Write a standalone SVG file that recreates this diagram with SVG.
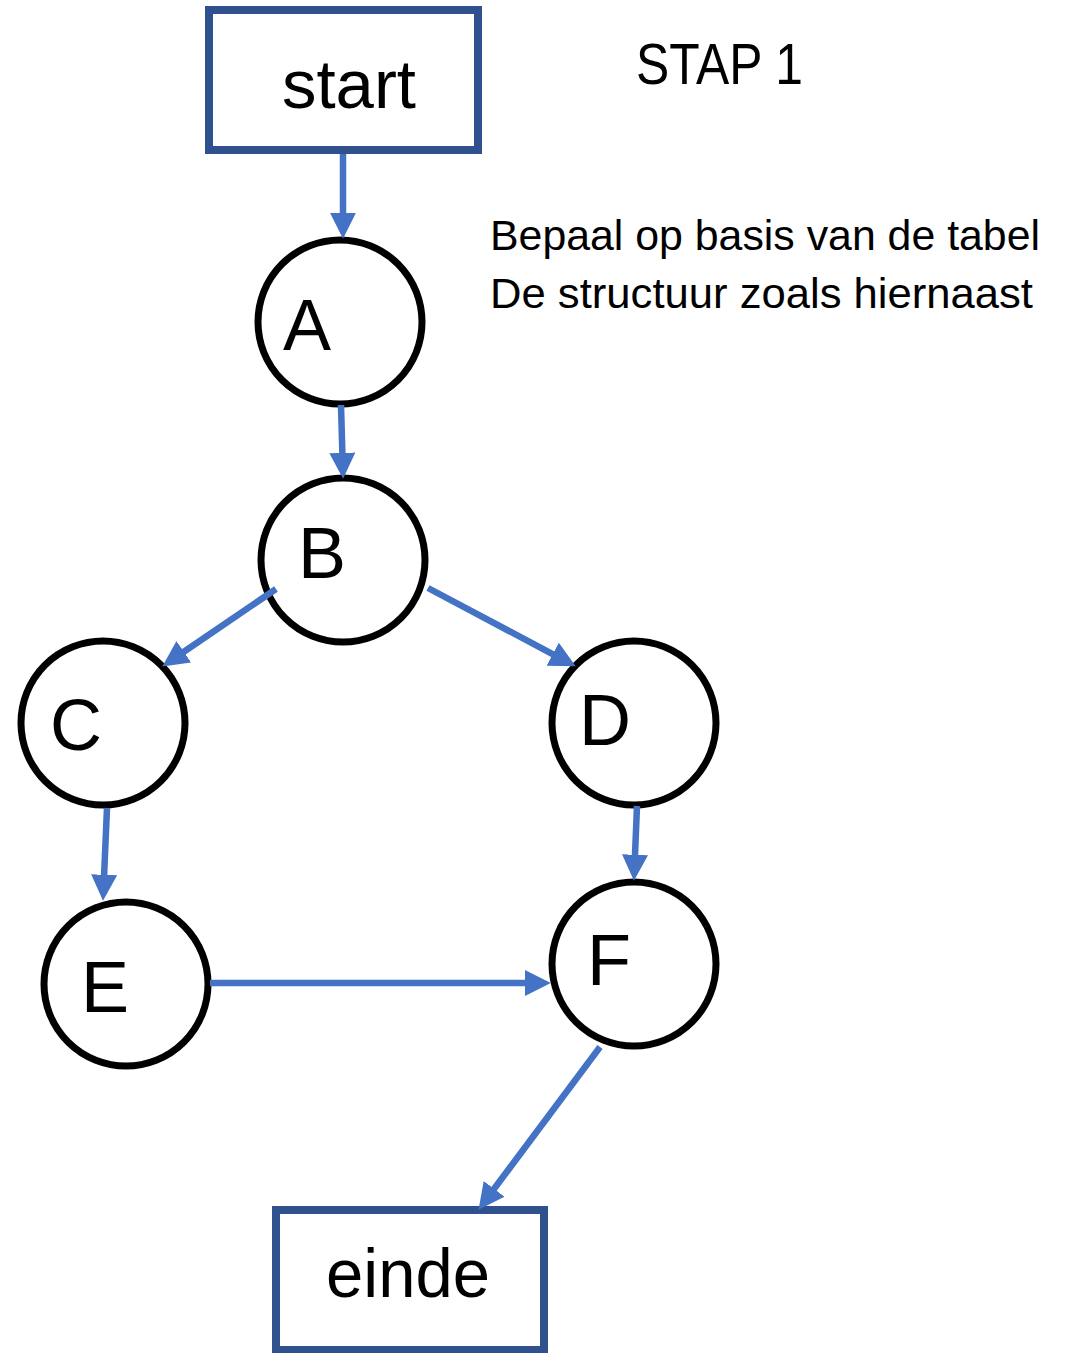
<svg xmlns="http://www.w3.org/2000/svg" width="1068" height="1353" viewBox="0 0 1068 1353">
<style>
.box{fill:#fff;stroke:#2F528F;stroke-width:8}
.node{fill:#fff;stroke:#000;stroke-width:7}
.lbl{font-family:"Liberation Sans",Arial,sans-serif;fill:#000}
.big{font-size:68px}
.letter{font-size:72px}
.note{font-size:42px}
.conn{stroke:#4472C4;stroke-width:6.5;fill:none}
</style>
<defs>
<marker id="ah" markerUnits="userSpaceOnUse" markerWidth="26" markerHeight="26" viewBox="0 0 25 25" refX="5" refY="12.5" orient="auto">
<path d="M0,0 L25,12.5 L0,25 z" fill="#4472C4"/>
</marker>
</defs>
<rect width="1068" height="1353" fill="#fff"/>
<g id="start"><rect class="box" x="209" y="10" width="269" height="140"/><text class="lbl big" x="349" y="108" text-anchor="middle" textLength="134" lengthAdjust="spacingAndGlyphs">start</text></g>
<g id="einde"><rect class="box" x="276" y="1210" width="268" height="140"/><text class="lbl big" x="408" y="1297" text-anchor="middle" textLength="164" lengthAdjust="spacingAndGlyphs">einde</text></g>
<g id="A"><circle class="node" cx="340" cy="322" r="82"/><text class="lbl letter" x="283" y="350">A</text></g>
<g id="B"><circle class="node" cx="343" cy="560" r="82"/><text class="lbl letter" x="298" y="578">B</text></g>
<g id="C"><circle class="node" cx="103" cy="723" r="82"/><text class="lbl letter" x="50" y="750">C</text></g>
<g id="D"><circle class="node" cx="634" cy="723" r="82"/><text class="lbl letter" x="579" y="745">D</text></g>
<g id="E"><circle class="node" cx="126" cy="984" r="82"/><text class="lbl letter" x="81" y="1012">E</text></g>
<g id="F"><circle class="node" cx="634" cy="964" r="82"/><text class="lbl letter" x="587" y="985">F</text></g>
<g id="title"><text class="lbl" font-size="58" x="636" y="84" textLength="167" lengthAdjust="spacingAndGlyphs">STAP 1</text></g>
<g id="note"><text class="lbl note" x="490" y="250" textLength="550" lengthAdjust="spacingAndGlyphs">Bepaal op basis van de tabel</text><text class="lbl note" x="490" y="308" textLength="543" lengthAdjust="spacingAndGlyphs">De structuur zoals hiernaast</text></g>
<g id="connectors">
<line class="conn" x1="343" y1="154" x2="343" y2="218" marker-end="url(#ah)"/>
<line class="conn" x1="341" y1="405" x2="342.5" y2="458" marker-end="url(#ah)"/>
<line class="conn" x1="276" y1="589" x2="179.5" y2="654.7" marker-end="url(#ah)"/>
<line class="conn" x1="428" y1="588" x2="557.3" y2="656.6" marker-end="url(#ah)"/>
<line class="conn" x1="107" y1="808" x2="103.9" y2="880" marker-end="url(#ah)"/>
<line class="conn" x1="637" y1="806" x2="634.8" y2="860" marker-end="url(#ah)"/>
<line class="conn" x1="210" y1="983" x2="530" y2="983" marker-end="url(#ah)"/>
<line class="conn" x1="600" y1="1047" x2="491" y2="1193" marker-end="url(#ah)"/>
</g>
</svg>
